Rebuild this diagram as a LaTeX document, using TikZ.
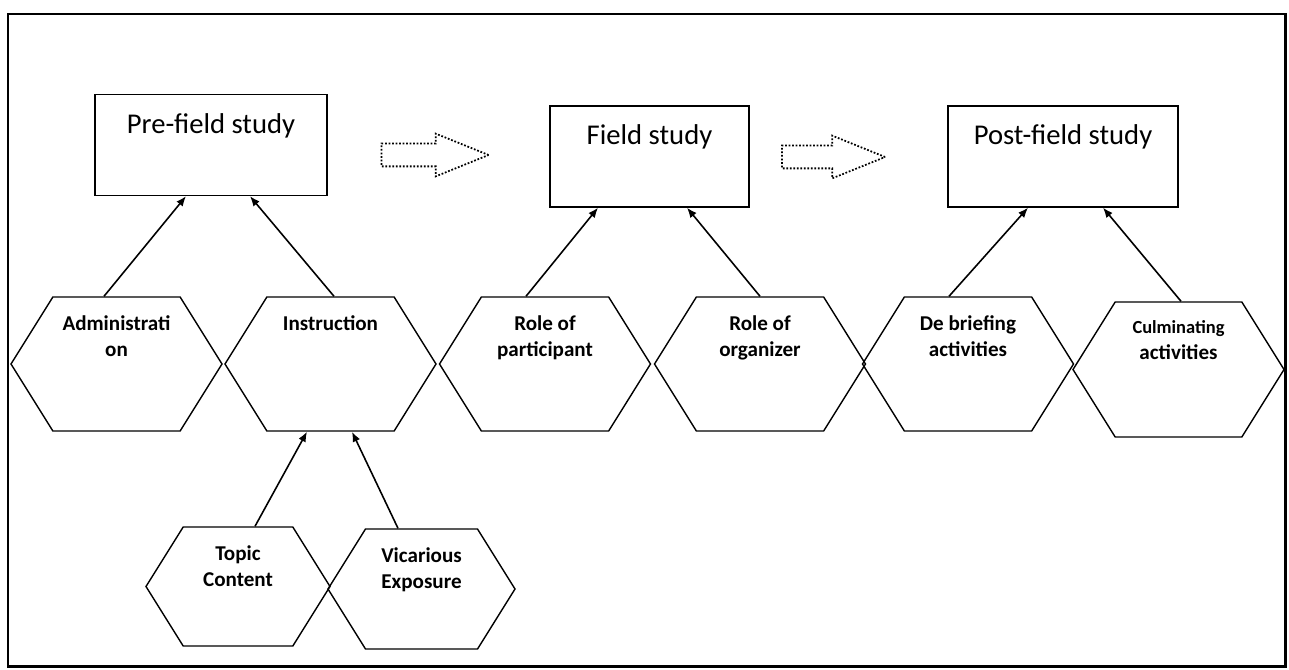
\documentclass[tikz,border=0pt]{standalone}
\usepackage{fontspec}
\setmainfont{Carlito}
\usetikzlibrary{arrows.meta,positioning,shapes.symbols,shapes.arrows}

\begin{document}
\begin{tikzpicture}[>=Latex,
  stage/.style={draw,line width=0.8pt,inner sep=0pt,text height=0.78cm,text depth=1.24cm,font=\fontsize{16.3}{19}\selectfont},
  hexa/.style={draw,line width=0.8pt,signal,signal to=west and east,signal pointer angle=116,minimum width=4.22cm,minimum height=2.68cm,inner sep=0pt},
  hextext/.style={below=0.38cm,align=center,inner sep=0pt,font=\fontsize{12}{14.7}\selectfont\bfseries},
  flowarrow/.style={draw,densely dotted,line width=1pt,single arrow,single arrow tip angle=44,text height=0.21cm,text depth=0.21cm,inner sep=0pt},
  link/.style={-{Latex[length=2mm,width=1.6mm]},line width=0.9pt}]
\useasboundingbox (0,0) rectangle (25.78,-13.4);
\draw[line width=1.7pt] (0.16,-0.28) rectangle (25.7,-13.32);
% stages
\node[stage,minimum width=4.64cm] (pre) at (4.22,-2.9) {Pre-field study};
\node[stage,minimum width=3.98cm] (fld) at (12.99,-3.13) {Field study};
\node[stage,minimum width=4.6cm] (pst) at (21.26,-3.13) {Post-field study};
\node[flowarrow,minimum height=2.14cm,single arrow head extend=0.2cm] (ar1) at (8.42,-3.1) {};
\node[flowarrow,minimum height=2.06cm,single arrow head extend=0.2cm] (ar2) at (16.39,-3.14) {};
% activities
\node[hexa,label={[hextext]north:Administrati\\on}] (adm) at (2.33,-7.28) {};
\node[hexa,label={[hextext]north:Instruction}] (ins) at (6.61,-7.28) {};
\node[hexa,label={[hextext]north:Role of\\participant}] (par) at (10.9,-7.28) {};
\node[hexa,label={[hextext]north:Role of\\organizer}] (org) at (15.2,-7.28) {};
\node[hexa,label={[hextext]north:De briefing\\activities}] (deb) at (19.36,-7.28) {};
\node[hexa,minimum height=2.7cm,label={[hextext]north:{\fontsize{10.5}{12}\selectfont Culminating}\\activities}] (cul) at (23.57,-7.39) {};
\node[hexa,minimum width=3.68cm,minimum height=2.38cm,label={[hextext]north:Topic\\Content}] (tpc) at (4.76,-11.73) {};
\node[hexa,minimum width=3.74cm,minimum height=2.4cm,label={[hextext]north:Vicarious\\Exposure}] (vic) at (8.43,-11.78) {};
% links
\draw[link] ([xshift=-0.25cm]adm.north) -- ([xshift=-0.5cm]pre.south);
\draw[link] ([xshift=0.07cm]ins.north) -- ([xshift=0.78cm]pre.south);
\draw[link] ([xshift=-0.38cm]par.north) -- ([xshift=-1.03cm]fld.south);
\draw[link] (org.north) -- ([xshift=0.75cm]fld.south);
\draw[link] ([xshift=-0.38cm]deb.north) -- ([xshift=-0.7cm]pst.south);
\draw[link] ([xshift=0.05cm]cul.north) -- ([xshift=0.8cm]pst.south);
\draw[link] ([xshift=0.34cm]tpc.north) -- ([xshift=-0.47cm]ins.south);
\draw[link] ([xshift=-0.47cm]vic.north) -- ([xshift=0.43cm]ins.south);
\end{tikzpicture}
\end{document}
